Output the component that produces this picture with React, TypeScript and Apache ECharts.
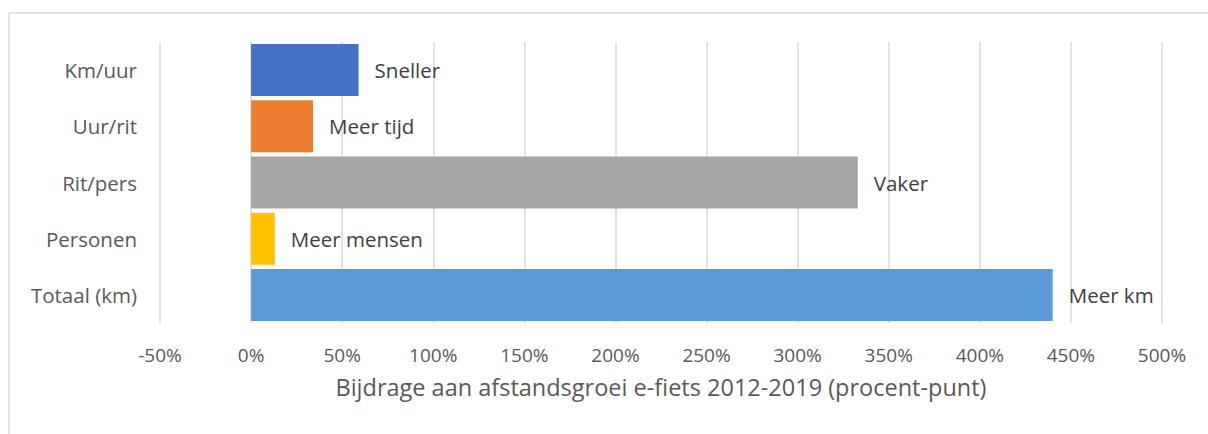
import React, { useEffect, useRef } from "react";
import * as echarts from "echarts";

const categories = ["Km/uur", "Uur/rit", "Rit/pers", "Personen", "Totaal (km)"];
const values = [59, 34, 333, 13, 440];
const barLabels = ["Sneller", "Meer tijd", "Vaker", "Meer mensen", "Meer km"];
const colors = ["#4472C4", "#ED7D31", "#A5A5A5", "#FFC000", "#5B9BD5"];
const axisTitle = "Bijdrage aan afstandsgroei e-fiets 2012-2019 (procent-punt)";

const FONT = "'Open Sans', 'Noto Sans', sans-serif";

export default function App() {
  const ref = useRef<HTMLDivElement>(null);
  useEffect(() => {
    if (!ref.current) return;
    const chart = echarts.init(ref.current, null, { renderer: "svg" });
    chart.setOption({
      animation: false,
      backgroundColor: "#ffffff",
      textStyle: { fontFamily: FONT },
      graphic: [
        {
          type: "rect",
          shape: { x: 9, y: 13, width: 1300, height: 600 },
          style: { fill: "none", stroke: "#d9d9d9", lineWidth: 1.5 },
          silent: true,
          z: -10,
        },
      ],
      grid: { left: 160, right: 46, top: 42, bottom: 111, containLabel: false },
      xAxis: {
        type: "value",
        min: -50,
        max: 500,
        interval: 50,
        axisLine: { show: false },
        axisTick: { show: false },
        splitLine: { show: true, lineStyle: { color: "#d9d9d9", width: 1.5 } },
        axisLabel: {
          formatter: "{value}%",
          color: "#595959",
          fontSize: 19,
          fontFamily: FONT,
          margin: 22,
        },
        name: axisTitle,
        nameLocation: "middle",
        nameGap: 52,
        nameTextStyle: { color: "#595959", fontSize: 23.5, fontFamily: FONT },
      },
      yAxis: {
        type: "category",
        data: categories,
        inverse: true,
        axisLine: { show: false },
        axisTick: { show: false },
        splitLine: { show: false },
        axisLabel: { color: "#595959", fontSize: 20.5, fontFamily: FONT, margin: 23 },
      },
      series: [
        {
          type: "bar",
          barCategoryGap: "7.5%",
          data: values.map((v, i) => ({
            value: v,
            itemStyle: { color: colors[i] },
            label: { formatter: barLabels[i] },
          })),
          label: {
            show: true,
            position: "right",
            distance: 16,
            color: "#404040",
            fontSize: 20.5,
            fontFamily: FONT,
          },
        },
      ],
    });
    return () => chart.dispose();
  }, []);
  return (
    <div
      ref={ref}
      style={{ position: "fixed", left: 0, top: 0, width: 1208, height: 434 }}
    />
  );
}
